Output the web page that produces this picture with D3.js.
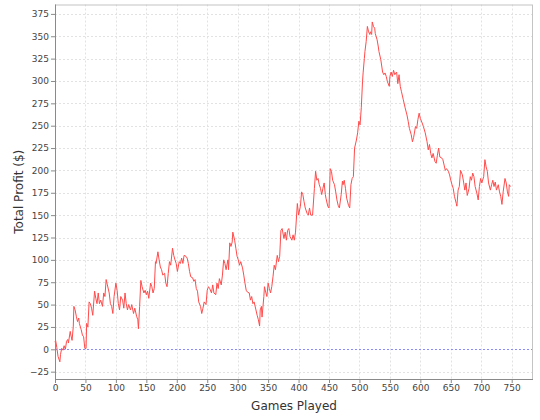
<!DOCTYPE html>
<html>
<head>
<meta charset="utf-8">
<script src="https://cdn.jsdelivr.net/npm/d3@7"></script>
<style>
  html, body { margin: 0; padding: 0; background: #ffffff; }
  svg { display: block; }
  text { font-family: "DejaVu Sans", sans-serif; }
</style>
</head>
<body>
<svg id="chart" width="540" height="420"></svg>
<script>
// ---- data ----
const games = [
  0,1,3,5,8,9,11,13,15,17,19,21,22,25,26,28,30,31,33,35,37,39,40,43,45,47,49,51,52,54,56,58,60,62,65,67,69,71,73,75,78,80,82,84,86,89,91,93,95,97,
  100,102,104,106,108,111,113,115,117,119,121,124,126,129,131,134,136,137,139,141,143,146,148,150,152,154,157,159,161,163,165,166,169,171,173,175,177,180,182,184,186,188,190,193,195,197,199,
  201,204,206,208,210,212,215,217,219,221,223,226,228,230,232,234,236,239,241,243,245,248,250,252,254,257,259,261,264,266,268,270,273,275,277,279,281,284,285,287,289,291,292,295,297,299,
  301,303,305,308,310,312,314,316,319,321,323,325,327,330,332,334,336,337,339,340,343,344,346,348,350,352,354,356,358,360,362,365,367,369,371,373,376,378,380,382,384,386,389,391,393,395,398,
  400,403,405,407,409,411,414,416,418,420,423,426,428,430,432,434,436,438,440,442,444,445,448,450,452,454,456,459,461,463,465,467,470,472,473,475,477,479,482,484,486,488,490,492,495,497,499,
  501,503,505,506,508,509,511,513,515,517,518,520,521,523,525,526,529,531,532,535,538,540,542,544,546,549,550,552,554,556,558,561,563,565,567,569,572,575,578,580,582,585,587,589,592,594,596,598,
  600,603,605,608,611,613,615,617,619,621,624,626,628,630,632,635,637,639,641,643,646,648,650,652,654,656,659,660,662,664,666,669,671,673,675,677,680,682,684,686,688,690,693,695,697,699,
  701,704,706,708,710,712,715,717,719,721,723,725,728,730,732,734,736,739,741,743,745,746,748
];
const profit = [
  8,10,2,-8,-14,-6,1,-1,4,0,9,11,7,20,16,10,25,48,44,37,31,35,29,22,16,14,1,1,29,25,53,51,46,38,65,57,51,63,51,55,48,63,59,78,72,63,51,48,40,59,
  74,66,51,44,59,55,46,63,51,44,50,44,50,40,46,37,33,23,48,77,70,63,66,61,65,57,74,70,63,68,98,96,109,100,92,89,83,85,74,70,85,98,94,113,105,100,96,
  87,98,96,102,96,105,104,102,96,87,81,80,76,78,68,65,53,48,40,46,53,50,66,70,68,63,72,63,61,74,68,79,72,83,100,96,89,100,89,119,115,120,131,122,113,104,
  100,94,98,91,83,74,66,64,63,55,59,51,53,44,38,33,26,44,48,36,59,70,64,59,74,68,63,70,81,94,89,105,98,104,133,135,124,131,122,133,135,126,122,128,122,131,163,
  150,160,176,173,165,158,152,150,158,150,150,180,199,189,191,184,180,173,180,186,173,169,160,158,202,199,189,184,176,167,161,158,173,188,184,189,180,169,161,158,184,191,193,225,234,242,255,
  251,270,299,309,325,333,344,361,355,352,355,352,366,361,359,353,346,338,333,324,310,307,309,305,299,294,305,310,305,312,307,310,297,307,294,288,279,270,262,255,247,240,232,237,249,247,257,264,
  258,253,249,242,232,223,229,219,214,219,210,208,217,225,215,214,212,206,200,202,199,195,189,184,180,171,163,160,178,182,200,195,187,178,186,172,180,193,189,197,193,182,174,167,182,191,
  186,193,212,204,199,186,178,184,189,182,187,178,184,176,171,162,176,191,186,176,171,184,182
];
const xTicks = [0,50,100,150,200,250,300,350,400,450,500,550,600,650,700,750];
const yTicks = [-25,0,25,50,75,100,125,150,175,200,225,250,275,300,325,350,375];
const xTitle = "Games Played";
const yTitle = "Total Profit ($)";

// ---- layout ----
const svg = d3.select("#chart");
const L = 55, R = 533, T = 4.5, B = 379;

const x = d3.scaleLinear().domain([0, 785]).range([L, R]);
const y = d3.scaleLinear().domain([-33.2, 385.5]).range([B, T]);

// plot background
svg.append("rect").attr("x", L).attr("y", T).attr("width", R - L).attr("height", B - T)
  .attr("fill", "#ffffff");

// gridlines
const grid = svg.append("g");
grid.selectAll("line.v").data(xTicks).join("line")
  .attr("x1", d => Math.round(x(d)) + 0.5).attr("x2", d => Math.round(x(d)) + 0.5)
  .attr("y1", T).attr("y2", B)
  .attr("stroke", "#e2e2e2").attr("stroke-width", 1).attr("stroke-dasharray", "2,2");
grid.selectAll("line.h").data(yTicks).join("line")
  .attr("y1", d => Math.round(y(d)) + 0.5).attr("y2", d => Math.round(y(d)) + 0.5)
  .attr("x1", L).attr("x2", R)
  .attr("stroke", "#e2e2e2").attr("stroke-width", 1).attr("stroke-dasharray", "2,2");

// zero marker
svg.append("line")
  .attr("x1", L).attr("x2", R)
  .attr("y1", Math.round(y(0)) + 0.5).attr("y2", Math.round(y(0)) + 0.5)
  .attr("stroke", "#8a8aff").attr("stroke-width", 1).attr("stroke-dasharray", "2,2");

// series line
const pts = games.map((g, i) => [g, profit[i]]);
svg.append("path")
  .datum(pts)
  .attr("fill", "none")
  .attr("stroke", "#ff4b4b")
  .attr("stroke-width", 1)
  .attr("stroke-linejoin", "round")
  .attr("d", d3.line().x(d => x(d[0])).y(d => y(d[1])));

// plot outline
svg.append("rect").attr("x", L + 0.5).attr("y", T + 0.5).attr("width", R - L - 1).attr("height", B - T)
  .attr("fill", "none").attr("stroke", "#c4c4c4").attr("stroke-width", 1);

// axes
const xAxis = d3.axisBottom(x).tickValues(xTicks).tickSize(4).tickPadding(2).tickFormat(d3.format("d"));
const yAxis = d3.axisLeft(y).tickValues(yTicks).tickSize(4).tickPadding(2).tickFormat(d3.format("d"));

const gx = svg.append("g").attr("transform", `translate(0,${B})`).call(xAxis);
const gy = svg.append("g").attr("transform", `translate(${L},0)`).call(yAxis);

[gx, gy].forEach(g => {
  g.select(".domain").attr("stroke", "#8a8a8a").attr("stroke-width", 1);
  g.selectAll(".tick line").attr("stroke", "#8a8a8a");
  g.selectAll(".tick text").attr("fill", "#444444")
    .style("font-family", "'DejaVu Sans', sans-serif").style("font-size", "9px");
});
gx.select(".domain").attr("d", `M${L},0.5H${R}`);
gy.select(".domain").attr("d", `M0.5,${T}V${B}`);

// titles
svg.append("text")
  .attr("x", (L + R) / 2).attr("y", 410)
  .attr("text-anchor", "middle")
  .attr("fill", "#333333")
  .style("font-size", "12px")
  .text(xTitle);

svg.append("text")
  .attr("transform", `translate(23,${(T + B) / 2}) rotate(-90)`)
  .attr("text-anchor", "middle")
  .attr("fill", "#333333")
  .style("font-size", "12px")
  .text(yTitle);
</script>
</body>
</html>
